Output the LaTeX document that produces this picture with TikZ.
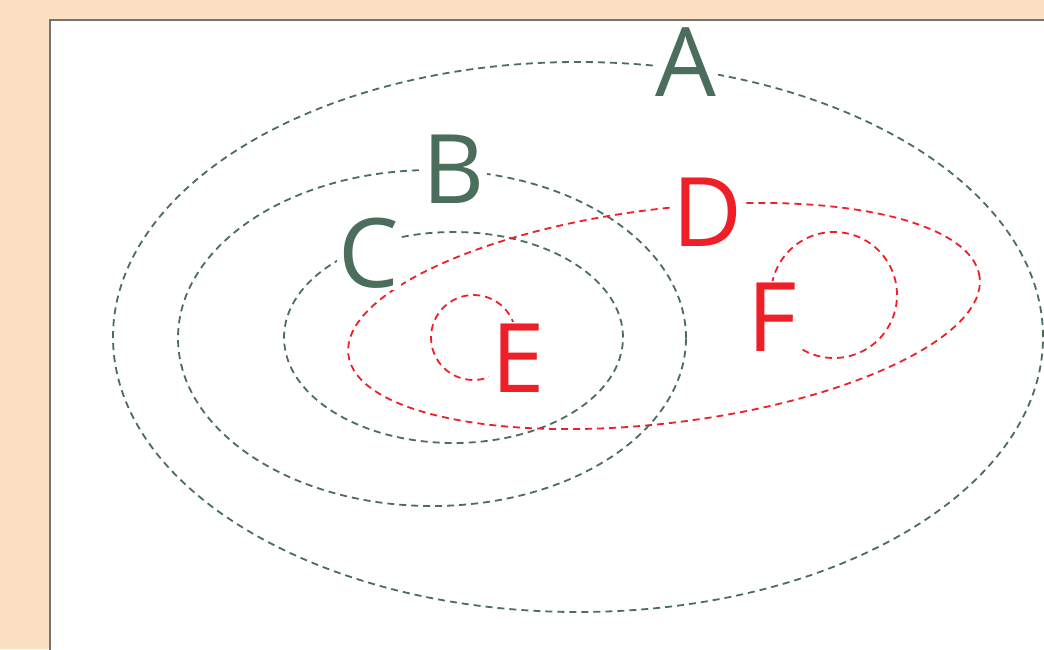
\documentclass[tikz,border=0pt]{standalone}
\usepackage{fontspec}
\setmainfont{Open Sans}
\definecolor{peach}{HTML}{FCE0C3}
\definecolor{setgreen}{HTML}{4A6E5B}
\definecolor{setred}{HTML}{EE1F27}
\begin{document}
\begin{tikzpicture}[x=1pt,y=-1pt,line cap=butt,
  setline/.style={dash pattern=on 7pt off 5pt,line width=1.8pt},
  setname/.style={fill=white,inner sep=2pt,font=\fontsize{96}{96}\selectfont}]
\useasboundingbox (0,0) rectangle (1044,649);
\clip (0,0) rectangle (1044,649);
% sheet
\fill[peach] (0,0) rectangle (1044,649);
\draw[line width=2pt,black!55,fill=white] (50,20) rectangle (1060,670);
% green sets
\draw[setline,setgreen] (578,337) ellipse[x radius=465pt,y radius=275pt];
\draw[setline,setgreen] (432,338) ellipse[x radius=254pt,y radius=168pt];
\draw[setline,setgreen] (453.5,337.5) ellipse[x radius=169.5pt,y radius=105.5pt];
% red sets
\draw[setline,setred,rotate around={7:(664,316)}] (664,316) ellipse[x radius=318pt,y radius=107pt];
\draw[setline,setred] (473.5,337.5) circle[radius=42.5pt];
\draw[setline,setred] (834,295) circle[radius=63pt];
% names
\node[setname,text=setgreen] (A) at (686,62) {A};
\node[setname,text=setgreen] (B) at (454,169) {B};
\node[setname,text=setgreen] (C) at (369,253) {C};
\node[setname,text=setred] (D) at (707,212) {D};
\node[setname,text=setred] (E) at (518,358) {E};
\node[setname,text=setred] (F) at (772,317) {F};
\end{tikzpicture}
\end{document}
